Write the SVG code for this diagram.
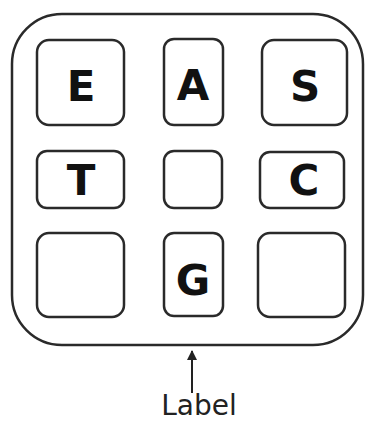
<svg xmlns="http://www.w3.org/2000/svg" width="366" height="423" viewBox="0 0 366 423">
<defs>
<style>
.box{fill:#fff;stroke:#2a2a2a;stroke-width:2.5}
.outer{fill:#fff;stroke:#2a2a2a;stroke-width:2.5}
.lt{font-family:"DejaVu Sans",Verdana,sans-serif;font-weight:bold;font-size:42px;fill:#111;text-anchor:middle}
.lbl{font-family:"DejaVu Sans",Verdana,sans-serif;font-size:28px;fill:#222;text-anchor:middle}
</style>
<marker id="ah" viewBox="0 0 10 10" refX="9" refY="5" markerWidth="5" markerHeight="5" orient="auto" markerUnits="strokeWidth">
<path d="M0,0 L10,5 L0,10 z" fill="#222"/>
</marker>
</defs>
<g id="frame"><rect class="outer" x="12" y="14" width="351" height="331" rx="50"/></g>
<g id="E"><rect class="box" x="37" y="40" width="87" height="85" rx="12"/><text class="lt" x="81" y="101">E</text></g>
<g id="A"><rect class="box" x="164" y="39" width="59" height="86" rx="10"/><text class="lt" x="193" y="100">A</text></g>
<g id="S"><rect class="box" x="262" y="40" width="85" height="85" rx="12"/><text class="lt" x="305" y="101">S</text></g>
<g id="T"><rect class="box" x="37" y="151" width="87" height="57" rx="10"/><text class="lt" x="81" y="195">T</text></g>
<g id="M"><rect class="box" x="164" y="151" width="58" height="57" rx="10"/></g>
<g id="C"><rect class="box" x="260" y="152" width="84" height="56" rx="10"/><text class="lt" x="304" y="195">C</text></g>
<g id="BL"><rect class="box" x="37" y="233" width="87" height="84" rx="12"/></g>
<g id="G"><rect class="box" x="164" y="233" width="59" height="83" rx="10"/><text class="lt" x="193" y="295">G</text></g>
<g id="BR"><rect class="box" x="258" y="233" width="87" height="84" rx="12"/></g>
<g id="connectors"><line x1="192" y1="393" x2="192" y2="351" stroke="#222" stroke-width="2" marker-end="url(#ah)"/></g>
<g id="label"><text class="lbl" x="199" y="415" font-size="29">Label</text></g>
</svg>
